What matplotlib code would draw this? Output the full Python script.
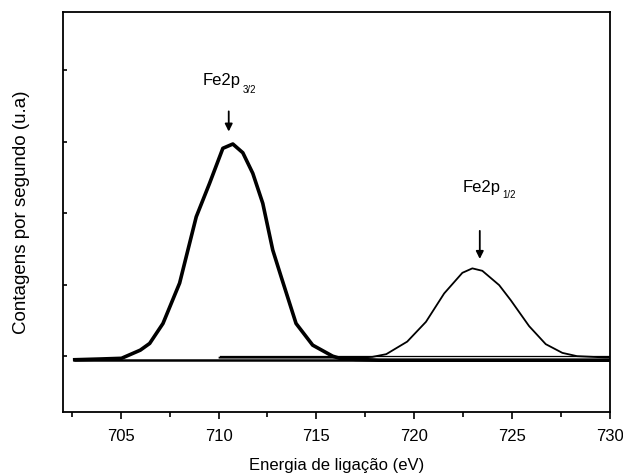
import matplotlib
matplotlib.use("Agg")
import matplotlib.pyplot as plt
from matplotlib.ticker import MultipleLocator, NullFormatter

plt.rcParams['font.family'] = ['Liberation Sans', 'DejaVu Sans']

# Fe2p3/2 envelope (thick)
e_32 = [702.65, 703.93, 705.04, 706.0, 706.48, 707.16, 708.01, 708.86, 709.54,
        710.22, 710.73, 711.24, 711.75, 712.26, 712.77, 713.20, 713.96,
        714.81, 715.83, 716.17, 717.0, 718.2, 730.0]
c_32 = [-0.050, -0.040, -0.030, 0.084, 0.178, 0.457, 1.021, 1.948, 2.415,
        2.905, 2.965, 2.843, 2.555, 2.136, 1.483, 1.109, 0.457,
        0.154, 0.0, -0.028, -0.045, -0.056, -0.056]

# Fe2p1/2 envelope (thin)
e_12 = [710.05, 717.0, 717.86, 718.57, 719.64, 720.60, 721.53, 722.46, 722.97,
        723.48, 724.34, 724.93, 725.87, 726.72, 727.57, 728.32, 729.78, 729.95]
c_12 = [-0.021, -0.021, -0.010, 0.028, 0.203, 0.480, 0.877, 1.165, 1.227,
        1.193, 0.993, 0.783, 0.420, 0.168, 0.046, 0.0, -0.018, -0.018]

# backgrounds
bg_32_e = [702.65, 730.0]
bg_32_c = [-0.056, -0.056]
bg_12_e = [710.05, 730.0]
bg_12_c = [0.004, 0.004]

fig = plt.figure(figsize=(6.23, 4.76), dpi=100)
ax = fig.add_axes([0.1011, 0.1345, 0.8779, 0.8403])

ax.plot(bg_32_e, bg_32_c, color='black', lw=1.8)
ax.plot(bg_12_e, bg_12_c, color='black', lw=0.9)
ax.plot(e_12, c_12, color='black', lw=1.3)
ax.plot(e_32, c_32, color='black', lw=2.6, solid_joinstyle='round')

ax.set_xlim(702.05, 730.0)
ax.set_ylim(-0.78, 4.81)

ax.xaxis.set_major_locator(MultipleLocator(5))
ax.xaxis.set_minor_locator(MultipleLocator(2.5))
ax.yaxis.set_major_locator(MultipleLocator(1))
ax.yaxis.set_major_formatter(NullFormatter())
ax.tick_params(axis='x', which='major', direction='out', length=5, width=1.2,
               labelsize=12, pad=7)
ax.tick_params(axis='x', which='minor', direction='out', length=3.5, width=1.2)
ax.tick_params(axis='y', which='major', direction='in', length=3, width=1.2)
for s in ax.spines.values():
    s.set_linewidth(1.3)

ax.set_xlabel('Energia de ligação (eV)', fontsize=12, labelpad=10)
ax.set_ylabel('Contagens por segundo (u.a)', fontsize=13.5, labelpad=20)

# annotations
ax.annotate('', xy=(710.52, 3.10), xytext=(710.52, 3.46),
            arrowprops=dict(arrowstyle='-|>', color='black', lw=1.3,
                            mutation_scale=11))
ax.text(709.18, 3.79, 'Fe2p', fontsize=12, ha='left', va='baseline')
ax.text(711.22, 3.68, '3/2', fontsize=7, ha='left', va='baseline')
ax.annotate('', xy=(723.35, 1.32), xytext=(723.35, 1.79),
            arrowprops=dict(arrowstyle='-|>', color='black', lw=1.3,
                            mutation_scale=11))
ax.text(722.45, 2.29, 'Fe2p', fontsize=12, ha='left', va='baseline')
ax.text(724.49, 2.21, '1/2', fontsize=7, ha='left', va='baseline')

fig.savefig('out.png', dpi=100)
